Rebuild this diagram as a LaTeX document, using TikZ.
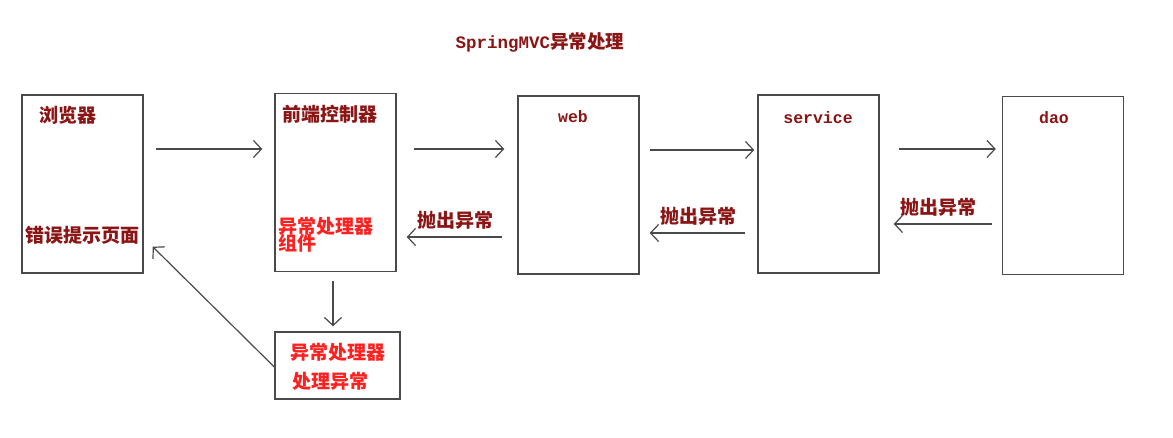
\documentclass[tikz,border=0pt]{standalone}
\usepackage{fontspec}
\newfontfamily\cjk{Noto Sans CJK SC}
\newfontfamily\mono{Liberation Mono}
\usetikzlibrary{arrows.meta,calc}
\definecolor{dred}{HTML}{8B1414}
\definecolor{bred}{HTML}{FF2020}
\definecolor{lgray}{HTML}{4A4A4A}
\tikzset{
  box/.style={draw=lgray, line width=1.4pt, minimum width=121pt, minimum height=178pt, inner sep=0pt},
  arr/.style={draw=lgray, line width=1.2pt, -{Straight Barb[length=8pt,width=17pt,line width=1.2pt]}},
  dlabel/.style={text=dred, font=\cjk\bfseries\fontsize{19}{19}\selectfont, inner sep=0pt},
  rlabel/.style={text=bred, font=\cjk\bfseries\fontsize{19}{19}\selectfont, inner sep=0pt},
  mlabel/.style={text=dred, font=\mono\bfseries\fontsize{16.5}{16.5}\selectfont, inner sep=0pt},
}
\begin{document}
\begin{tikzpicture}[x=1pt,y=-1pt]
\useasboundingbox[fill=white] (0,0) rectangle (1173,438);
% boxes
\node[box] (browser) at (82.5,184) {};
\node[box] (fc) at (335.5,182.5) {};
\node[box] (web) at (578.5,185) {};
\node[box] (service) at (818.5,184) {};
\node[box] (dao) at (1063,185.5) {};
\node[box, minimum width=125pt, minimum height=67pt] (handler) at (337.5,365.5) {};
% title
\node[inner sep=0pt, text=dred] (title) at (540,42) {{\mono\bfseries\fontsize{17.5}{17.5}\selectfont SpringMVC}{\cjk\bfseries\fontsize{18.5}{18.5}\selectfont 异常处理}};
% labels
\node[dlabel] (tbrowser) at (68,115) {浏览器};
\node[dlabel] (terr) at (82,235) {错误提示页面};
\node[dlabel] (tfc) at (330,114) {前端控制器};
\node[rlabel, anchor=west] (tfcex1) at (278,226) {异常处理器};
\node[rlabel, anchor=west] (tfcex2) at (278,243) {组件};
\node[mlabel] (tweb) at (573,117) {web};
\node[mlabel] (tservice) at (818,118) {service};
\node[mlabel] (tdao) at (1054,118) {dao};
\node[dlabel] (t1) at (455,220) {抛出异常};
\node[dlabel] (t2) at (698,216) {抛出异常};
\node[dlabel] (t3) at (938,207) {抛出异常};
\node[rlabel] (th1) at (338,352) {异常处理器};
\node[rlabel] (th2) at (330,381) {处理异常};
% forward arrows
\draw[arr, shorten <=12pt, shorten >=12pt] (browser.east|-0,149) -- (fc.west|-0,149);
\draw[arr, shorten <=17pt, shorten >=13pt] (fc.east|-0,149) -- (web.west|-0,149);
\draw[arr, shorten <=10pt, shorten >=3pt] (web.east|-0,150) -- (service.west|-0,150);
\draw[arr, shorten <=19pt, shorten >=6pt] (service.east|-0,149) -- (dao.west|-0,149);
% back arrows
\draw[arr, shorten <=10pt, shorten >=14pt] (dao.west|-0,224) -- (service.east|-0,224);
\draw[arr, shorten <=12pt, shorten >=10pt] (service.west|-0,233) -- (web.east|-0,233);
\draw[arr, shorten <=15pt, shorten >=10pt] (web.west|-0,237) -- (fc.east|-0,237);
% down to handler
\draw[arr, shorten <=9pt, shorten >=5pt] (fc.south-|333,0) -- (handler.north-|333,0);
% handler back to browser
\coordinate (errtip) at ($(browser.south east)+(9,-27)$);
\draw[arr] (handler.west|-0,367) -- (errtip);
\end{tikzpicture}
\end{document}
